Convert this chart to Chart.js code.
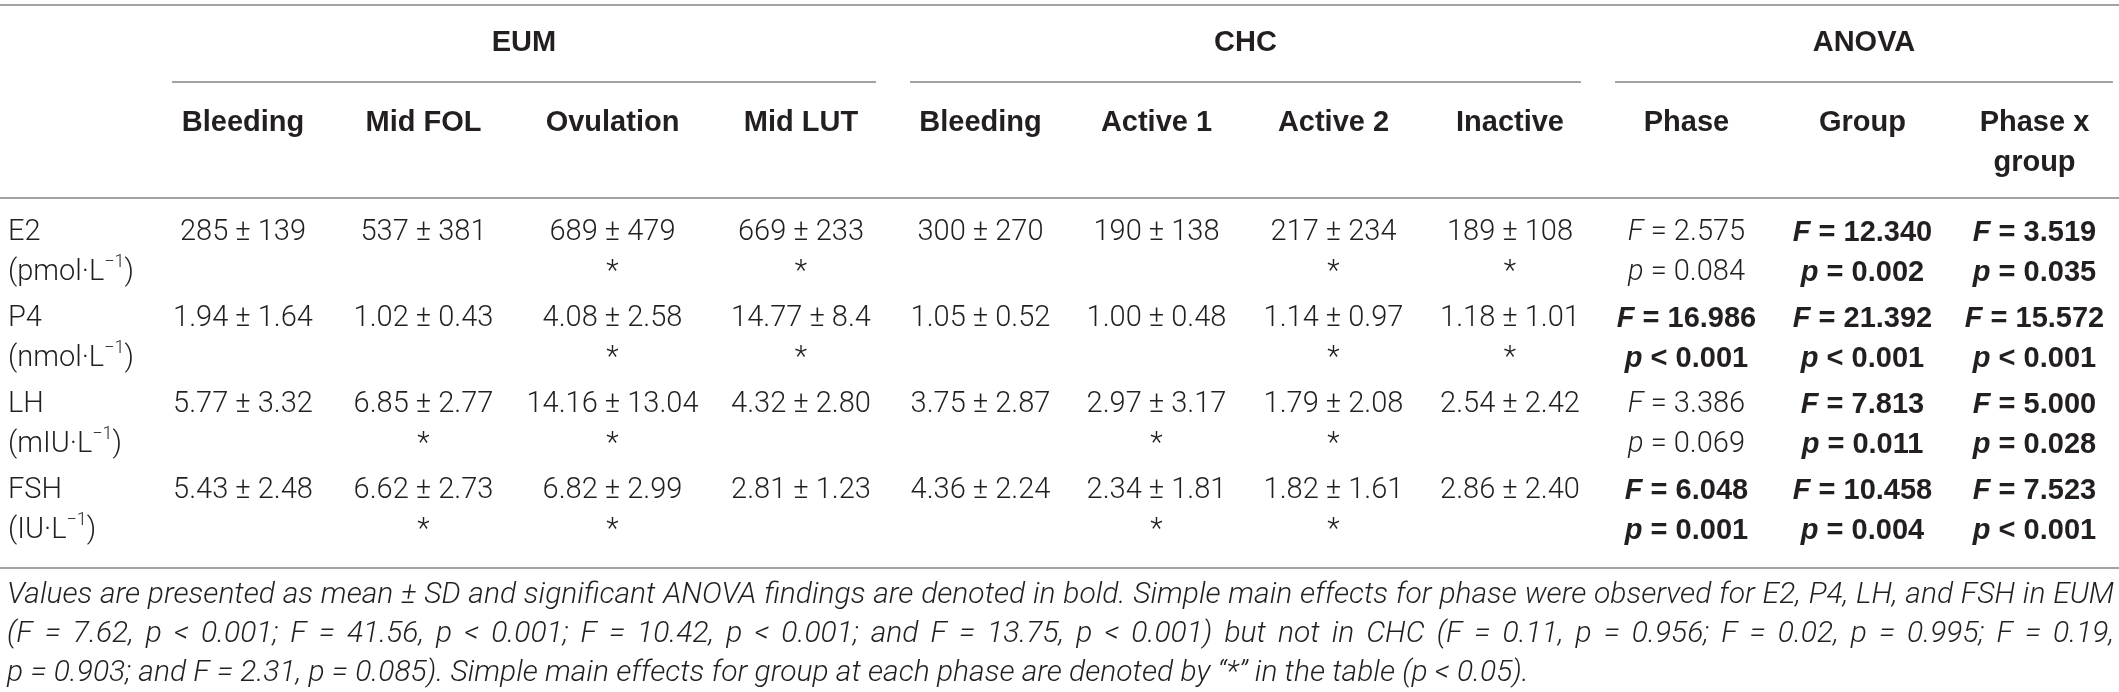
<!DOCTYPE html>
<html>
<head>
<meta charset="utf-8">
<script src="https://cdn.jsdelivr.net/npm/chart.js@4.4.0/dist/chart.umd.min.js"></script>
<style>
html, body { margin: 0; padding: 0; background: #fff; overflow: hidden; }
#wrap { width: 2119px; height: 692px; position: relative; }
</style>
</head>
<body>
<div id="wrap"><canvas id="tabla"></canvas></div>
<script>
'use strict'

// filas
let hormonas = ['E2', 'P4', 'LH', 'FSH'];
let unidades = ['pmol·L', 'nmol·L', 'mIU·L', 'IU·L'];

// EUM (media ± DE)
let eumBleeding  = ['285 ± 139', '1.94 ± 1.64', '5.77 ± 3.32', '5.43 ± 2.48'];
let eumMidFol    = ['537 ± 381', '1.02 ± 0.43', '6.85 ± 2.77', '6.62 ± 2.73'];
let eumOvulation = ['689 ± 479', '4.08 ± 2.58', '14.16 ± 13.04', '6.82 ± 2.99'];
let eumMidLut    = ['669 ± 233', '14.77 ± 8.4', '4.32 ± 2.80', '2.81 ± 1.23'];

// CHC (media ± DE)
let chcBleeding = ['300 ± 270', '1.05 ± 0.52', '3.75 ± 2.87', '4.36 ± 2.24'];
let chcActive1  = ['190 ± 138', '1.00 ± 0.48', '2.97 ± 3.17', '2.34 ± 1.81'];
let chcActive2  = ['217 ± 234', '1.14 ± 0.97', '1.79 ± 2.08', '1.82 ± 1.61'];
let chcInactive = ['189 ± 108', '1.18 ± 1.01', '2.54 ± 2.42', '2.86 ± 2.40'];

// efecto de grupo en cada fase (*)
let starEumBleeding  = [0, 0, 0, 0];
let starEumMidFol    = [0, 0, 1, 1];
let starEumOvulation = [1, 1, 1, 1];
let starEumMidLut    = [1, 1, 0, 0];
let starChcBleeding  = [0, 0, 0, 0];
let starChcActive1   = [0, 0, 1, 1];
let starChcActive2   = [1, 1, 1, 1];
let starChcInactive  = [1, 1, 0, 0];

// ANOVA
let fPhase = [2.575, 16.986, 3.386, 6.048];
let pPhase = ['= 0.084', '< 0.001', '= 0.069', '= 0.001'];
let fGroup = [12.340, 21.392, 7.813, 10.458];
let pGroup = ['= 0.002', '< 0.001', '= 0.011', '= 0.004'];
let fInter = [3.519, 15.572, 5.000, 7.523];
let pInter = ['= 0.035', '< 0.001', '= 0.028', '< 0.001'];

// encabezados
let grupos = ['EUM', 'CHC', 'ANOVA'];
let columnas = ['Bleeding', 'Mid FOL', 'Ovulation', 'Mid LUT', 'Bleeding', 'Active 1', 'Active 2', 'Inactive', 'Phase', 'Group', 'Phase x|group'];

let nota = [
    'Values are presented as mean ± SD and significant ANOVA findings are denoted in bold. Simple main effects for phase were observed for E2, P4, LH, and FSH in EUM',
    '(F = 7.62, p < 0.001; F = 41.56, p < 0.001; F = 10.42, p < 0.001; and F = 13.75, p < 0.001) but not in CHC (F = 0.11, p = 0.956; F = 0.02, p = 0.995; F = 0.19,',
    'p = 0.903; and F = 2.31, p = 0.085). Simple main effects for group at each phase are denoted by \u201c*\u201d in the table (p < 0.05).'
];

// maquetacion de la tabla
let anchos = [155, 176, 185, 193, 184, 175, 177, 177, 176, 177, 175, 169];
let tramosGrupo = [[1, 4], [5, 8], [9, 11]];
let colorTexto = '#231f20';
let colorRaya = '#a3a3a3';
let fLigera = '300 29px Roboto';
let fLigeraIt = 'italic 300 29px Roboto';
let fNegrita = 'bold 29px "Liberation Sans"';
let fNegritaIt = 'italic bold 29px "Liberation Sans"';
let fCabecera = 'bold 29px "Liberation Sans"';
let fSup = '300 18px Roboto';

// bordes acumulados de columnas
let bordes = [0];
anchos.forEach(a => bordes.push(bordes[bordes.length - 1] + a));
let centros = anchos.map((a, i) => bordes[i] + a / 2);

function celdaMedia(valores, estrellas){
    return valores.map((v, i) => ({
        l1: [{texto: v, font: fLigera}],
        l2: estrellas[i] ? [{texto: '*', font: fLigera}] : []
    }));
}

function celdaAnova(fs, ps){
    return fs.map((f, i) => {
        let sig = parseFloat(ps[i].slice(2)) < 0.05;
        return {
            l1: [{texto: 'F', font: sig ? fNegritaIt : fLigeraIt}, {texto: ' = ' + f.toFixed(3), font: sig ? fNegrita : fLigera}],
            l2: [{texto: 'p', font: sig ? fNegritaIt : fLigeraIt}, {texto: ' ' + ps[i], font: sig ? fNegrita : fLigera}]
        };
    });
}

let celdasEtiqueta = hormonas.map((h, i) => ({
    l1: [{texto: h, font: fLigera}],
    l2: [{texto: '(' + unidades[i], font: fLigera}, {texto: '\u22121', font: fSup, dy: -11}, {texto: ')', font: fLigera}]
}));

let columnasDatos = [
    celdasEtiqueta,
    celdaMedia(eumBleeding, starEumBleeding),
    celdaMedia(eumMidFol, starEumMidFol),
    celdaMedia(eumOvulation, starEumOvulation),
    celdaMedia(eumMidLut, starEumMidLut),
    celdaMedia(chcBleeding, starChcBleeding),
    celdaMedia(chcActive1, starChcActive1),
    celdaMedia(chcActive2, starChcActive2),
    celdaMedia(chcInactive, starChcInactive),
    celdaAnova(fPhase, pPhase),
    celdaAnova(fGroup, pGroup),
    celdaAnova(fInter, pInter)
];

function dibujarTramos(ctx, tramos, x, y, alinear){
    let total = 0;
    tramos.forEach(t => { ctx.font = t.font; t.w = ctx.measureText(t.texto).width; total += t.w; });
    let cx = alinear === 'center' ? x - total / 2 : x;
    ctx.textAlign = 'left';
    tramos.forEach(t => { ctx.font = t.font; ctx.fillText(t.texto, cx, y + (t.dy || 0)); cx += t.w; });
}

function raya(ctx, x1, x2, y){
    ctx.beginPath();
    ctx.moveTo(x1, y);
    ctx.lineTo(x2, y);
    ctx.stroke();
}

const pluginTabla = {
    id: 'tabla',
    afterDatasetsDraw(chart){
        const ctx = chart.ctx;
        const sx = chart.scales.x;
        const area = chart.chartArea;
        const x0 = sx.getPixelForValue(0);
        const x1 = sx.getPixelForValue(bordes[bordes.length - 1]);
        const rayaCab = area.top - 12;
        const rayaPie = area.bottom + 14;
        ctx.save();
        ctx.fillStyle = colorTexto;
        ctx.textBaseline = 'middle';
        ctx.strokeStyle = colorRaya;
        ctx.lineWidth = 2;

        // rayas horizontales
        raya(ctx, x0, x1, 5);
        raya(ctx, x0, x1, rayaCab);
        raya(ctx, x0, x1, rayaPie);

        // grupos
        tramosGrupo.forEach((g, i) => {
            let a = sx.getPixelForValue(bordes[g[0]]) + 17;
            let fin = g[1] + 1 === bordes.length - 1;
            let b = sx.getPixelForValue(bordes[g[1] + 1]) - (fin ? 6 : 17);
            raya(ctx, a, b, 82);
            dibujarTramos(ctx, [{texto: grupos[i], font: fCabecera}], (a + b) / 2, 43, 'center');
        });

        // subencabezados
        columnas.forEach((c, i) => {
            c.split('|').forEach((linea, k) => {
                dibujarTramos(ctx, [{texto: linea, font: fCabecera}], sx.getPixelForValue(centros[i + 1]), 123 + k * 40, 'center');
            });
        });

        // celdas
        chart.data.datasets.forEach((ds, di) => {
            const meta = chart.getDatasetMeta(di);
            meta.data.forEach((pt, i) => {
                const celda = ds.celdas[i];
                const alinear = di === 0 ? 'left' : 'center';
                const x = di === 0 ? pt.x + 8 : pt.x;
                dibujarTramos(ctx, celda.l1, x, pt.y - 20, alinear);
                dibujarTramos(ctx, celda.l2, x, pt.y + 20, alinear);
            });
        });

        // nota al pie (justificada)
        const xi = x0 + 7;
        const xf = x1 - 5;
        ctx.font = 'italic 300 26px Roboto';
        let talla = Math.min(30, 26 * (xf - xi) / ctx.measureText(nota[0]).width);
        ctx.font = 'italic 300 ' + talla.toFixed(2) + 'px Roboto';
        ctx.textAlign = 'left';
        nota.forEach((linea, k) => {
            const y = rayaPie + 27 + k * 39;
            if (k === nota.length - 1) {
                ctx.fillText(linea, xi, y);
                return;
            }
            const palabras = linea.split(' ');
            let ancho = 0;
            palabras.forEach(p => ancho += ctx.measureText(p).width);
            const hueco = (xf - xi - ancho) / (palabras.length - 1);
            let cx = xi;
            palabras.forEach(p => { ctx.fillText(p, cx, y); cx += ctx.measureText(p).width + hueco; });
        });
        ctx.restore();
    }
};

const ctx = document.getElementById('tabla').getContext('2d');
const tabla = new Chart(ctx, {
    type: 'scatter',
    data: {
        datasets: columnasDatos.map((celdas, c) => ({
            label: c === 0 ? 'Hormone' : columnas[c - 1],
            data: hormonas.map(h => ({x: c === 0 ? 0 : centros[c], y: h})),
            celdas: celdas,
            pointRadius: 0,
            showLine: false
        }))
    },
    options: {
        responsive: true,
        maintainAspectRatio: false,
        devicePixelRatio: 1,
        animation: false,
        layout: {
            padding: { top: 210, bottom: 138, left: 0, right: 0 }
        },
        plugins: {
            legend: { display: false },
            tooltip: { enabled: false }
        },
        scales: {
            x: {
                type: 'linear',
                min: 0,
                max: bordes[bordes.length - 1],
                display: false
            },
            y: {
                type: 'category',
                labels: hormonas,
                offset: true,
                display: false
            }
        }
    },
    plugins: [pluginTabla]
});
</script>
</body>
</html>
